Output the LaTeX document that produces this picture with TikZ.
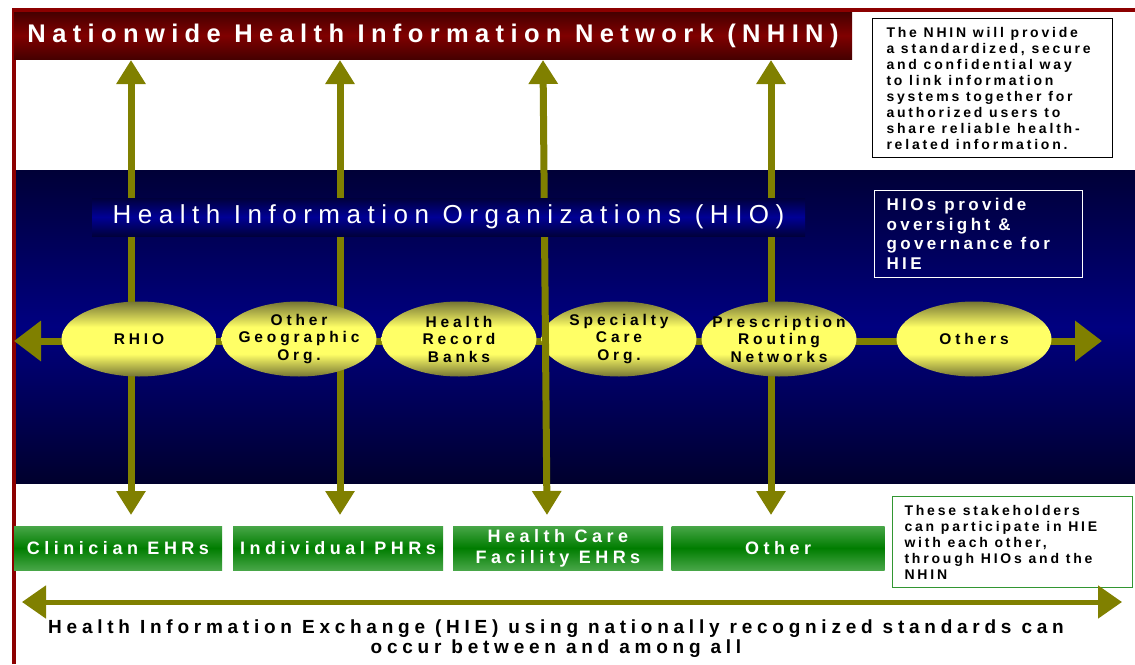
\documentclass[tikz,border=0pt]{standalone}
\usepackage{fontspec}
\setmainfont{Liberation Sans}
\newfontfamily\widefont[LetterSpace=25]{Liberation Sans}
\newfontfamily\notefont[LetterSpace=20]{Liberation Sans}
\usetikzlibrary{arrows.meta,shapes.geometric,positioning}

\definecolor{framered}{RGB}{140,0,0}
\definecolor{bannerred}{RGB}{128,0,0}
\definecolor{bannerdark}{RGB}{70,0,0}
\definecolor{bandtop}{RGB}{0,0,55}
\definecolor{bandmid}{RGB}{0,0,128}
\definecolor{bandbot}{RGB}{0,0,45}
\definecolor{hiomid}{RGB}{0,0,150}
\definecolor{hiodark}{RGB}{0,0,60}
\definecolor{olivearrow}{RGB}{128,128,0}
\definecolor{ellyellow}{RGB}{255,255,102}
\definecolor{elldark}{RGB}{118,118,52}
\definecolor{boxgreen}{RGB}{0,125,0}
\definecolor{boxlight}{RGB}{72,166,72}
\definecolor{notegreen}{RGB}{50,150,50}

\pgfdeclareverticalshading{ellshade}{100bp}{color(0bp)=(elldark); color(25bp)=(elldark); color(40bp)=(ellyellow); color(58bp)=(ellyellow); color(75bp)=(elldark); color(100bp)=(elldark)}

\begin{document}
\begin{tikzpicture}[x=1pt, y=-1pt, node distance=160pt]
% Define styles
\tikzstyle{banner} = [rectangle, inner sep=0pt, text=white, top color=bannerdark, bottom color=bannerdark, middle color=bannerred, font=\widefont\bfseries\fontsize{25.5}{29}\selectfont]
\tikzstyle{hiobar} = [rectangle, inner sep=0pt, text=white, top color=hiodark, bottom color=hiodark, middle color=hiomid, font=\widefont\fontsize{26}{30}\selectfont]
\tikzstyle{note} = [rectangle, anchor=north west, align=flush left, inner xsep=12pt, inner ysep=0pt, line width=1pt, font=\notefont\bfseries\fontsize{14}{16}\selectfont]
\tikzstyle{org} = [ellipse, minimum width=155pt, minimum height=75pt, inner xsep=-30pt, inner ysep=-6pt, align=center, shading=ellshade, font=\widefont\bfseries\fontsize{15.5}{17.5}\selectfont]
\tikzstyle{stake} = [rectangle, minimum width=210pt, minimum height=44pt, inner sep=0pt, align=center, text=white, top color=boxlight, bottom color=boxlight, middle color=boxgreen, font=\widefont\bfseries\fontsize{18}{21}\selectfont]
\tikzstyle{varrow} = [line width=7pt, olivearrow, <->, >={Triangle[width=28pt,length=24pt]}]
\tikzstyle{harrow} = [line width=7pt, olivearrow, <->, >={Triangle[width=39pt,length=27pt]}]
\tikzstyle{hiearrow} = [line width=5pt, olivearrow, <->, >={Triangle[width=32pt,length=24pt]}]

% Background and frame
\useasboundingbox (0,0) rectangle (1135,664);
\fill[white] (0,0) rectangle (1135,664);
\shade[top color=bandtop, bottom color=bandbot, middle color=bandmid] (14,170) rectangle (1135,483);
\draw[framered, line width=4pt] (14,664) -- (14,10) -- (1135,10);

% Draw nodes
\node [banner, minimum width=838pt, minimum height=47pt] (nhin) at (433,35.5) {Nationwide Health Information Network (NHIN)};
\node [note, draw=black, text width=212pt, inner xsep=14pt, minimum height=139pt] (nhinnote) at (872,18) {The NHIN will provide\\a standardized, secure\\and confidential way\\to link information\\systems together for\\authorized users to\\share reliable health-\\related information.};

\node [stake, minimum width=208pt] (clin) at (118,548) {Clinician EHRs};
\node [stake, right of=clin, node distance=220pt] (phr) {Individual PHRs};
\node [stake, right of=phr, node distance=220pt] (fac) {Health Care\\Facility EHRs};
\node [stake, right of=fac, node distance=220pt, minimum width=213pt] (oth) {Other};
\node [note, draw=notegreen, text width=216pt, minimum height=91pt] (stakenote) at (892,496) {These stakeholders\\can participate in HIE\\with each other,\\through HIOs and the\\NHIN};
\node [align=center, font=\widefont\bfseries\fontsize{19}{20}\selectfont] (hie) at (556,639) {Health Information Exchange (HIE) using nationally recognized standards can\\occur between and among all};

% Arrow ends
\coordinate (t1) at (131,60);  \coordinate (b1) at (131,515);
\coordinate (t2) at (340,60);  \coordinate (b2) at (340,515);
\coordinate (t3) at (543,60);  \coordinate (b3) at (547,515);
\coordinate (t4) at (771,60);  \coordinate (b4) at (771,515);
\coordinate (hl) at (14,341);  \coordinate (hr) at (1102,341);
\coordinate (el) at (22,602);  \coordinate (er) at (1122,602);

% Draw arrows
\draw [varrow] (t1) -- (b1);
\draw [varrow] (t2) -- (b2);
\draw [varrow] (t4) -- (b4);
\draw [harrow] (hl) -- (hr);

\node [org] (rhio) at (139,339) {RHIO};
\node [org, right of=rhio] (geo) {Other\\Geographic\\Org.};
\node [org, right of=geo] (hrb) {Health\\Record\\Banks};
\node [org, right of=hrb] (spec) {Specialty\\Care\\Org.};
\node [org, right of=spec] (rx) {Prescription\\Routing\\Networks};
\node [org, right of=rx, node distance=195pt] (others) {Others};

\draw [varrow] (t3) -- (b3);

\node [hiobar, minimum width=713pt, minimum height=38pt] (hio) at (448.5,217) {Health Information Organizations (HIO)};
\node [note, draw=white, text=white, text width=184pt, minimum height=87pt, font=\notefont\bfseries\fontsize{17}{19.5}\selectfont] (hionote) at (874,190) {HIOs provide\\oversight \&\\governance for\\HIE};

\draw [hiearrow] (el) -- (er);
\end{tikzpicture}
\end{document}
